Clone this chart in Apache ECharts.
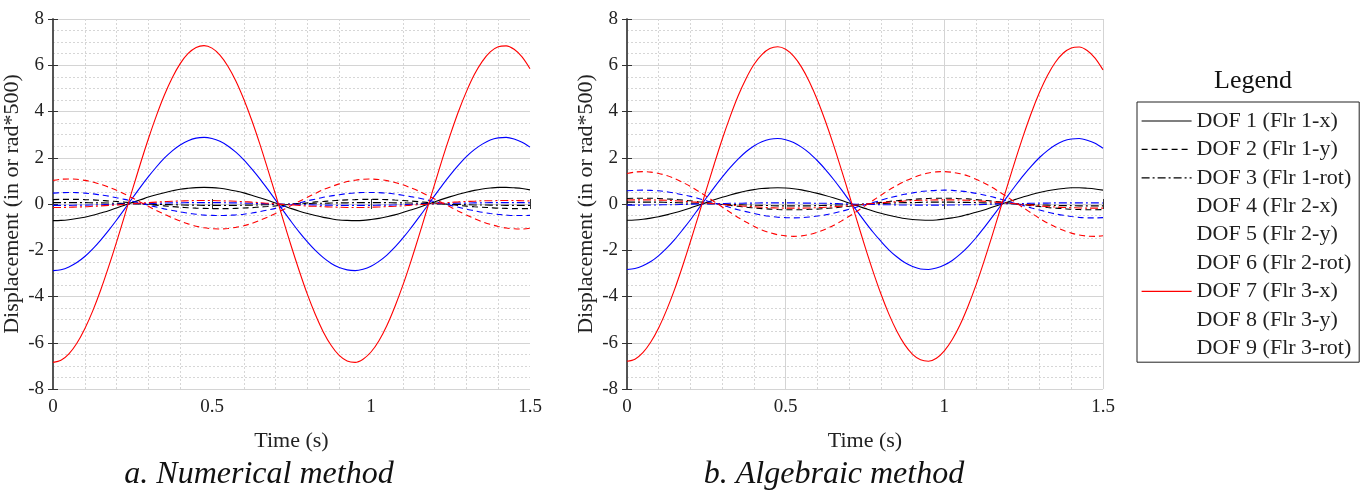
<!DOCTYPE html>
<html>
<head>
<meta charset="utf-8">
<script src="https://cdn.jsdelivr.net/npm/echarts@6/dist/echarts.min.js"></script>
<style>
html, body { margin: 0; padding: 0; background: #fff; }
#chart { width: 1372px; height: 491px; }
</style>
</head>
<body>
<div id="chart"></div>
<script>
// time axis (s)
var timeS = [0,0.025,0.05,0.075,0.1,0.125,0.15,0.175,0.2,0.225,0.25,0.275,0.3,0.325,0.35,0.375,0.4,0.425,0.45,0.475,0.5,0.525,0.55,0.575,0.6,0.625,0.65,0.675,0.7,0.725,0.75,0.775,0.8,0.825,0.85,0.875,0.9,0.925,0.95,0.975,1,1.025,1.05,1.075,1.1,1.125,1.15,1.175,1.2,1.225,1.25,1.275,1.3,1.325,1.35,1.375,1.4,1.425,1.45,1.475,1.5];

// a. numerical method
var numDof1 = [-0.72,-0.71,-0.68,-0.63,-0.57,-0.49,-0.39,-0.29,-0.17,-0.05,0.07,0.18,0.30,0.40,0.49,0.57,0.64,0.68,0.71,0.72,0.71,0.68,0.63,0.56,0.48,0.38,0.27,0.16,0.04,-0.08,-0.20,-0.31,-0.41,-0.50,-0.58,-0.64,-0.69,-0.71,-0.72,-0.71,-0.67,-0.62,-0.55,-0.47,-0.37,-0.26,-0.15,-0.03,0.09,0.21,0.32,0.42,0.51,0.59,0.65,0.69,0.72,0.72,0.70,0.67,0.61];
var numDof2 = [0.19,0.20,0.20,0.20,0.19,0.18,0.16,0.13,0.11,0.08,0.05,0.01,-0.02,-0.05,-0.08,-0.11,-0.14,-0.16,-0.18,-0.19,-0.20,-0.20,-0.20,-0.19,-0.17,-0.16,-0.13,-0.11,-0.08,-0.04,-0.01,0.02,0.05,0.09,0.11,0.14,0.16,0.18,0.19,0.20,0.20,0.20,0.19,0.17,0.15,0.13,0.10,0.07,0.04,0.01,-0.02,-0.06,-0.09,-0.12,-0.14,-0.16,-0.18,-0.19,-0.20,-0.20,-0.20];
var numDof3 = [0.06,0.06,0.06,0.06,0.06,0.05,0.05,0.04,0.03,0.02,0.01,0.00,-0.01,-0.02,-0.02,-0.03,-0.04,-0.05,-0.05,-0.06,-0.06,-0.06,-0.06,-0.06,-0.05,-0.05,-0.04,-0.03,-0.02,-0.01,0.00,0.01,0.02,0.03,0.03,0.04,0.05,0.05,0.06,0.06,0.06,0.06,0.06,0.05,0.05,0.04,0.03,0.02,0.01,0.00,-0.01,-0.02,-0.03,-0.04,-0.04,-0.05,-0.05,-0.06,-0.06,-0.06,-0.06];
var numDof4 = [-2.88,-2.84,-2.72,-2.53,-2.27,-1.94,-1.56,-1.14,-0.69,-0.22,0.26,0.73,1.18,1.60,1.98,2.30,2.55,2.74,2.85,2.88,2.83,2.71,2.51,2.24,1.91,1.52,1.10,0.64,0.17,-0.31,-0.78,-1.23,-1.64,-2.01,-2.32,-2.57,-2.75,-2.85,-2.88,-2.82,-2.69,-2.48,-2.21,-1.87,-1.48,-1.05,-0.59,-0.12,0.36,0.83,1.27,1.68,2.05,2.35,2.59,2.77,2.86,2.88,2.81,2.67,2.46];
var numDof5 = [0.47,0.49,0.50,0.49,0.47,0.44,0.39,0.34,0.27,0.20,0.12,0.04,-0.05,-0.13,-0.21,-0.28,-0.34,-0.40,-0.44,-0.48,-0.49,-0.50,-0.49,-0.47,-0.44,-0.39,-0.33,-0.26,-0.19,-0.11,-0.03,0.05,0.14,0.21,0.29,0.35,0.40,0.45,0.48,0.50,0.50,0.49,0.47,0.43,0.38,0.32,0.26,0.18,0.10,0.02,-0.06,-0.14,-0.22,-0.29,-0.36,-0.41,-0.45,-0.48,-0.50,-0.50,-0.49];
var numDof6 = [-0.06,-0.06,-0.06,-0.05,-0.05,-0.04,-0.03,-0.02,-0.01,0.00,0.01,0.02,0.02,0.03,0.04,0.05,0.05,0.06,0.06,0.06,0.06,0.06,0.05,0.05,0.04,0.03,0.02,0.01,0.00,-0.01,-0.02,-0.03,-0.03,-0.04,-0.05,-0.05,-0.06,-0.06,-0.06,-0.06,-0.06,-0.05,-0.05,-0.04,-0.03,-0.02,-0.01,0.00,0.01,0.02,0.03,0.04,0.04,0.05,0.05,0.06,0.06,0.06,0.06,0.06,0.05];
var numDof7 = [-6.85,-6.76,-6.48,-6.02,-5.39,-4.62,-3.72,-2.71,-1.64,-0.51,0.63,1.75,2.82,3.81,4.70,5.46,6.07,6.51,6.77,6.85,6.74,6.44,5.96,5.32,4.53,3.62,2.61,1.52,0.40,-0.74,-1.86,-2.92,-3.91,-4.78,-5.53,-6.12,-6.55,-6.79,-6.85,-6.71,-6.40,-5.91,-5.25,-4.44,-3.52,-2.50,-1.41,-0.28,0.85,1.97,3.02,4.00,4.86,5.60,6.17,6.58,6.80,6.84,6.69,6.36,5.85];
var numDof8 = [1.02,1.07,1.08,1.07,1.02,0.95,0.85,0.73,0.59,0.43,0.26,0.08,-0.10,-0.28,-0.44,-0.60,-0.74,-0.86,-0.96,-1.03,-1.07,-1.08,-1.06,-1.01,-0.94,-0.84,-0.71,-0.57,-0.41,-0.24,-0.06,0.12,0.29,0.46,0.62,0.75,0.87,0.97,1.03,1.07,1.08,1.06,1.01,0.93,0.83,0.70,0.56,0.39,0.22,0.04,-0.13,-0.31,-0.48,-0.63,-0.77,-0.88,-0.97,-1.04,-1.07,-1.08,-1.05];
var numDof9 = [-0.15,-0.15,-0.14,-0.13,-0.12,-0.10,-0.08,-0.06,-0.04,-0.01,0.01,0.04,0.06,0.08,0.10,0.12,0.13,0.14,0.15,0.15,0.15,0.14,0.13,0.12,0.10,0.08,0.06,0.03,0.01,-0.02,-0.04,-0.06,-0.09,-0.10,-0.12,-0.13,-0.14,-0.15,-0.15,-0.15,-0.14,-0.13,-0.11,-0.10,-0.08,-0.05,-0.03,-0.01,0.02,0.04,0.07,0.09,0.11,0.12,0.14,0.14,0.15,0.15,0.15,0.14,0.13];

// b. algebraic method
var algDof1 = [-0.70,-0.69,-0.66,-0.61,-0.55,-0.47,-0.38,-0.28,-0.17,-0.05,0.06,0.18,0.29,0.39,0.48,0.56,0.62,0.67,0.69,0.70,0.69,0.66,0.61,0.54,0.46,0.37,0.27,0.16,0.04,-0.08,-0.19,-0.30,-0.40,-0.49,-0.56,-0.63,-0.67,-0.69,-0.70,-0.69,-0.65,-0.60,-0.54,-0.45,-0.36,-0.26,-0.14,-0.03,0.09,0.20,0.31,0.41,0.50,0.57,0.63,0.67,0.70,0.70,0.68,0.65,0.60];
var algDof2 = [0.24,0.25,0.25,0.25,0.24,0.22,0.20,0.17,0.14,0.10,0.06,0.02,-0.02,-0.06,-0.10,-0.14,-0.17,-0.20,-0.22,-0.24,-0.25,-0.25,-0.25,-0.23,-0.22,-0.19,-0.17,-0.13,-0.10,-0.06,-0.01,0.03,0.07,0.11,0.14,0.17,0.20,0.22,0.24,0.25,0.25,0.25,0.23,0.22,0.19,0.16,0.13,0.09,0.05,0.01,-0.03,-0.07,-0.11,-0.15,-0.18,-0.20,-0.23,-0.24,-0.25,-0.25,-0.24];
var algDof3 = [0.08,0.08,0.08,0.08,0.08,0.07,0.06,0.05,0.04,0.03,0.02,0.01,-0.01,-0.02,-0.03,-0.04,-0.05,-0.06,-0.07,-0.08,-0.08,-0.08,-0.08,-0.08,-0.07,-0.06,-0.05,-0.04,-0.03,-0.02,0.00,0.01,0.02,0.03,0.05,0.06,0.06,0.07,0.08,0.08,0.08,0.08,0.07,0.07,0.06,0.05,0.04,0.03,0.02,0.00,-0.01,-0.02,-0.04,-0.05,-0.06,-0.07,-0.07,-0.08,-0.08,-0.08,-0.08];
var algDof4 = [-2.83,-2.79,-2.67,-2.49,-2.23,-1.91,-1.54,-1.12,-0.68,-0.21,0.26,0.72,1.16,1.57,1.94,2.26,2.51,2.69,2.80,2.83,2.78,2.66,2.46,2.20,1.87,1.50,1.08,0.63,0.16,-0.31,-0.77,-1.21,-1.61,-1.98,-2.28,-2.53,-2.70,-2.81,-2.83,-2.77,-2.64,-2.44,-2.17,-1.84,-1.46,-1.03,-0.58,-0.12,0.35,0.81,1.25,1.65,2.01,2.31,2.55,2.72,2.81,2.83,2.76,2.63,2.41];
var algDof5 = [0.57,0.59,0.60,0.59,0.57,0.53,0.47,0.40,0.33,0.24,0.14,0.04,-0.05,-0.15,-0.25,-0.33,-0.41,-0.48,-0.53,-0.57,-0.59,-0.60,-0.59,-0.56,-0.52,-0.47,-0.40,-0.32,-0.23,-0.13,-0.03,0.06,0.16,0.26,0.34,0.42,0.48,0.54,0.57,0.59,0.60,0.59,0.56,0.52,0.46,0.39,0.31,0.22,0.12,0.02,-0.07,-0.17,-0.26,-0.35,-0.43,-0.49,-0.54,-0.58,-0.60,-0.60,-0.59];
var algDof6 = [-0.05,-0.05,-0.05,-0.04,-0.04,-0.03,-0.03,-0.02,-0.01,0.00,0.00,0.01,0.02,0.03,0.03,0.04,0.04,0.05,0.05,0.05,0.05,0.05,0.04,0.04,0.03,0.03,0.02,0.01,0.00,-0.01,-0.01,-0.02,-0.03,-0.03,-0.04,-0.04,-0.05,-0.05,-0.05,-0.05,-0.05,-0.04,-0.04,-0.03,-0.03,-0.02,-0.01,0.00,0.01,0.01,0.02,0.03,0.04,0.04,0.05,0.05,0.05,0.05,0.05,0.05,0.04];
var algDof7 = [-6.80,-6.71,-6.43,-5.97,-5.35,-4.58,-3.69,-2.69,-1.62,-0.51,0.62,1.73,2.80,3.78,4.67,5.42,6.03,6.46,6.72,6.80,6.69,6.39,5.92,5.28,4.50,3.59,2.59,1.51,0.40,-0.73,-1.84,-2.90,-3.88,-4.75,-5.49,-6.08,-6.50,-6.74,-6.80,-6.67,-6.35,-5.86,-5.21,-4.41,-3.50,-2.48,-1.40,-0.28,0.85,1.95,3.00,3.97,4.83,5.56,6.13,6.53,6.75,6.79,6.64,6.31,5.80];
var algDof8 = [1.32,1.38,1.40,1.38,1.32,1.23,1.10,0.94,0.76,0.55,0.33,0.10,-0.13,-0.36,-0.58,-0.78,-0.96,-1.12,-1.24,-1.33,-1.38,-1.40,-1.38,-1.32,-1.22,-1.09,-0.93,-0.74,-0.53,-0.31,-0.08,0.15,0.38,0.60,0.80,0.98,1.13,1.25,1.34,1.39,1.40,1.37,1.31,1.21,1.07,0.91,0.72,0.51,0.29,0.06,-0.17,-0.40,-0.62,-0.82,-0.99,-1.14,-1.26,-1.34,-1.39,-1.40,-1.37];
var algDof9 = [0.17,0.18,0.18,0.18,0.17,0.16,0.14,0.12,0.10,0.07,0.04,0.01,-0.02,-0.05,-0.07,-0.10,-0.12,-0.14,-0.16,-0.17,-0.18,-0.18,-0.18,-0.17,-0.16,-0.14,-0.12,-0.10,-0.07,-0.04,-0.01,0.02,0.05,0.08,0.10,0.13,0.15,0.16,0.17,0.18,0.18,0.18,0.17,0.16,0.14,0.12,0.09,0.07,0.04,0.01,-0.02,-0.05,-0.08,-0.11,-0.13,-0.15,-0.16,-0.17,-0.18,-0.18,-0.18];

var dofNames = ['DOF 1 (Flr 1-x)','DOF 2 (Flr 1-y)','DOF 3 (Flr 1-rot)','DOF 4 (Flr 2-x)','DOF 5 (Flr 2-y)','DOF 6 (Flr 2-rot)','DOF 7 (Flr 3-x)','DOF 8 (Flr 3-y)','DOF 9 (Flr 3-rot)'];
var numData = [numDof1,numDof2,numDof3,numDof4,numDof5,numDof6,numDof7,numDof8,numDof9];
var algData = [algDof1,algDof2,algDof3,algDof4,algDof5,algDof6,algDof7,algDof8,algDof9];
// legend shows a line sample only for these
var legendShown = [true,true,true,false,false,false,true,false,false];

var FONT = '"Liberation Serif", "Times New Roman", serif';
var floorColor = ['#000000', '#0000ff', '#ff0000'];
var dofDash = ['solid', [6, 4], [8, 3, 2, 3]];

var chart = echarts.init(document.getElementById('chart'));

var grids = [
    {left: 53, top: 19, width: 477, height: 370},
    {left: 627, top: 19, width: 476, height: 370}
];

var xAxes = [], yAxes = [], series = [];
grids.forEach(function (g, gi) {
    // bottom x
    xAxes.push({
        gridIndex: gi, type: 'value', min: 0, max: 1.5, interval: 0.5,
        axisLine: {show: false},
        axisTick: {show: true, inside: true, length: 5, lineStyle: {color: '#333'}},
        axisLabel: {margin: 9, fontFamily: FONT, fontSize: 19, color: '#222',
            formatter: function (v) { return String(v); }},
        splitLine: {show: gi === 1, lineStyle: {color: '#d4d4d4', width: 1}},
        minorTick: {show: false, splitNumber: 5},
        minorSplitLine: {show: true, lineStyle: {color: '#d6d6d6', type: [2, 2], width: 1}},
        name: 'Time (s)', nameLocation: 'middle', nameGap: 41,
        nameTextStyle: {fontFamily: FONT, fontSize: 22, color: '#222'}
    });
    // top x (ticks only)
    xAxes.push({
        gridIndex: gi, type: 'value', position: 'top', min: 0, max: 1.5, interval: 0.5,
        axisLine: {show: false},
        axisTick: {show: true, inside: true, length: 5, lineStyle: {color: '#333'}},
        axisLabel: {show: false}, splitLine: {show: false}
    });
    // left y
    yAxes.push({
        gridIndex: gi, type: 'value', min: -8, max: 8, interval: 2,
        axisLine: {show: true, lineStyle: {color: '#4a4a4a', width: 1.5}},
        axisTick: {show: true, inside: true, length: 5, lineStyle: {color: '#333'}},
        axisLabel: {margin: 9, fontFamily: FONT, fontSize: 19, color: '#222'},
        splitLine: {show: true, lineStyle: {color: '#d4d4d4', width: 1}},
        minorTick: {show: false, splitNumber: 4},
        minorSplitLine: {show: true, lineStyle: {color: '#d6d6d6', type: [2, 2], width: 1}},
        name: 'Displacement (in or rad*500)', nameLocation: 'middle', nameRotate: 90, nameGap: 30,
        nameTextStyle: {fontFamily: FONT, fontSize: 22, color: '#222'}
    });
    // right y (box edge + ticks)
    yAxes.push({
        gridIndex: gi, type: 'value', position: 'right', min: -8, max: 8, interval: 2,
        axisLine: {show: true, lineStyle: {color: '#4a4a4a', width: 1.5}},
        axisTick: {show: true, inside: true, length: 5, lineStyle: {color: '#333'}},
        axisLabel: {show: false}, splitLine: {show: false}
    });

    var src = gi === 0 ? numData : algData;
    src.forEach(function (vals, k) {
        var pts = [];
        for (var i = 0; i < timeS.length; i++) {
            pts.push([timeS[i], vals[i]]);
        }
        series.push({
            name: dofNames[k],
            type: 'line',
            xAxisIndex: gi * 2,
            yAxisIndex: gi * 2,
            data: pts,
            symbol: 'none',
            smooth: 0.3,
            silent: true,
            lineStyle: {color: floorColor[Math.floor(k / 3)], width: 1.1, type: dofDash[k % 3]},
            itemStyle: {color: floorColor[Math.floor(k / 3)]}
        });
    });
});

var legendData = dofNames.map(function (n, k) {
    if (legendShown[k]) return {name: n};
    return {name: n, lineStyle: {opacity: 0}};
});

var option = {
    animation: false,
    backgroundColor: '#fff',
    grid: grids,
    xAxis: xAxes,
    yAxis: yAxes,
    series: series,
    legend: {
        data: legendData,
        orient: 'vertical',
        left: 1137,
        top: 102,
        padding: [5, 8, 0, 4],
        itemWidth: 50,
        itemHeight: 14,
        itemGap: 0.4,
        selectedMode: false,
        itemStyle: {opacity: 0},
        lineStyle: {width: 1.2},
        borderColor: '#222',
        borderWidth: 1,
        textStyle: {fontFamily: FONT, fontSize: 22, color: '#222', lineHeight: 28}
    },
    graphic: [
        {type: 'text', x: 1253, y: 81, silent: true,
            style: {text: 'Legend', font: '26px ' + FONT, fill: '#111', align: 'center', verticalAlign: 'middle'}},
        {type: 'text', x: 259, y: 475, silent: true,
            style: {text: 'a. Numerical method', font: 'italic 32px ' + FONT, fill: '#111', align: 'center', verticalAlign: 'middle'}},
        {type: 'text', x: 834, y: 475, silent: true,
            style: {text: 'b. Algebraic method', font: 'italic 32px ' + FONT, fill: '#111', align: 'center', verticalAlign: 'middle'}}
    ]
};

chart.setOption(option);
</script>
</body>
</html>
